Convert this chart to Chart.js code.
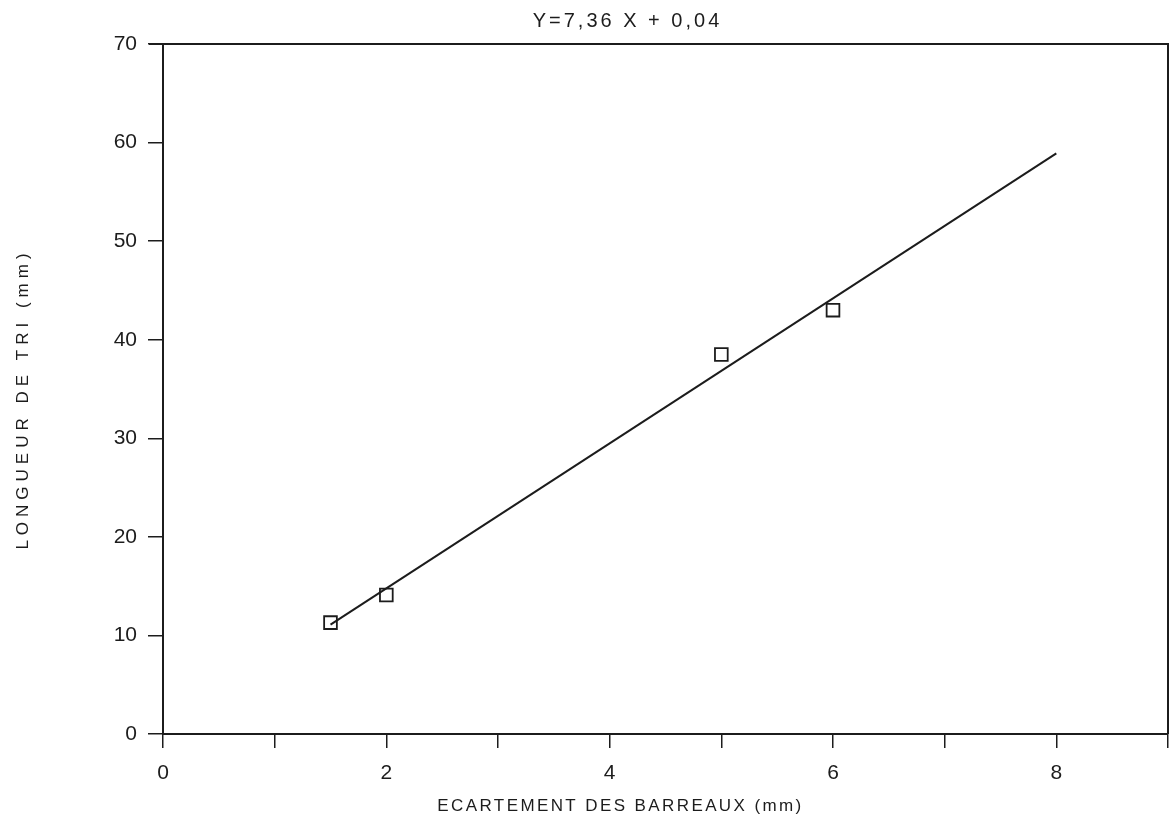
<!DOCTYPE html>
<html><head><meta charset="utf-8">
<script src="https://cdn.jsdelivr.net/npm/chart.js@4/dist/chart.umd.min.js"></script>
<style>html,body{margin:0;padding:0;background:#fff}#wrap{width:1171px;height:834px}</style>
</head><body><div id="wrap"><canvas id="c" width="1171" height="834"></canvas></div>
<script>
const chartTitle = 'Y=7,36 X + 0,04';
const xAxisTitle = 'ECARTEMENT DES BARREAUX (mm)';
const yAxisTitle = 'LONGUEUR DE TRI (mm)';
const ecartement = [1.5, 2, 5, 6];
const longueur = [11.3, 14.1, 38.5, 43.0];
const fitX = [1.5, 8];
const fitY = [11.1, 58.9];
const xTicks = [0, 1, 2, 3, 4, 5, 6, 7, 8, 9];
const xTickLabels = ['0', '', '2', '', '4', '', '6', '', '8', ''];
const yTicks = [0, 10, 20, 30, 40, 50, 60, 70];
const yTickLabels = ['0', '10', '20', '30', '40', '50', '60', '70'];

const INK = '#1c1c1c';
const FONT = "'Liberation Sans', Arial, sans-serif";

const framePlugin = {
  id: 'frame',
  afterDraw(chart) {
    const {ctx, chartArea: a} = chart;
    ctx.save();
    ctx.strokeStyle = INK;
    ctx.lineWidth = 2;
    ctx.beginPath();
    ctx.moveTo(a.left - 14, a.top);
    ctx.lineTo(a.right, a.top);
    ctx.lineTo(a.right, a.bottom);
    ctx.stroke();
    ctx.fillStyle = INK;
    ctx.textBaseline = 'middle';
    ctx.textAlign = 'center';
    const t = chart.options.plugins.title;
    ctx.font = '20px ' + FONT;
    ctx.letterSpacing = '3px';
    ctx.fillText(t.text, (a.left + a.right) / 2 - 38, 21);
    const xt = chart.options.scales.x.title;
    ctx.font = '17px ' + FONT;
    ctx.letterSpacing = '2.4px';
    ctx.fillText(xt.text, (a.left + a.right) / 2 - 45, 806);
    const yt = chart.options.scales.y.title;
    ctx.translate(23, (a.top + a.bottom) / 2 + 10);
    ctx.rotate(-Math.PI / 2);
    ctx.font = '17px ' + FONT;
    ctx.letterSpacing = '5px';
    ctx.fillText(yt.text, 0, 0);
    ctx.restore();
  }
};

new Chart(document.getElementById('c'), {
  type: 'scatter',
  data: {
    datasets: [
      {
        label: 'droite',
        data: fitX.map((x, i) => ({x, y: fitY[i]})),
        showLine: true,
        borderColor: INK,
        borderWidth: 2,
        pointRadius: 0,
        fill: false
      },
      {
        label: 'mesures',
        data: ecartement.map((x, i) => ({x, y: longueur[i]})),
        showLine: false,
        pointStyle: 'rect',
        pointRadius: 9,
        pointBorderWidth: 1.8,
        pointBorderColor: INK,
        pointBackgroundColor: 'rgba(0,0,0,0)'
      }
    ]
  },
  options: {
    responsive: false,
    animation: false,
    devicePixelRatio: 1,
    layout: {autoPadding: false, padding: {left: 0, right: 3, top: 44, bottom: 0}},
    plugins: {
      legend: {display: false},
      tooltip: {enabled: false},
      title: {display: false, text: chartTitle}
    },
    scales: {
      x: {
        type: 'linear',
        min: 0, max: 9,
        afterBuildTicks: s => { s.ticks = xTicks.map(v => ({value: v})); },
        afterFit: s => { s.height = 100; s.paddingRight = 0; s.paddingLeft = 0; },
        ticks: {
          callback: (v) => xTickLabels[xTicks.indexOf(v)],
          color: INK,
          font: {family: FONT, size: 21},
          padding: 13,
          maxRotation: 0,
          autoSkip: false
        },
        grid: {display: true, drawOnChartArea: false, drawTicks: true, tickLength: 14, color: INK, lineWidth: 1.5},
        border: {display: true, color: INK, width: 2},
        title: {display: false, text: xAxisTitle}
      },
      y: {
        type: 'linear',
        min: 0, max: 70,
        afterBuildTicks: s => { s.ticks = yTicks.map(v => ({value: v})); },
        afterFit: s => { s.width = 163; s.paddingTop = 0; s.paddingBottom = 0; },
        ticks: {
          callback: (v) => yTickLabels[yTicks.indexOf(v)],
          color: INK,
          font: {family: FONT, size: 21},
          padding: 11,
          autoSkip: false
        },
        grid: {display: true, drawOnChartArea: false, drawTicks: true, tickLength: 15, color: INK, lineWidth: 1.5},
        border: {display: true, color: INK, width: 2},
        title: {display: false, text: yAxisTitle}
      }
    }
  },
  plugins: [framePlugin]
});
</script>
</body></html>
